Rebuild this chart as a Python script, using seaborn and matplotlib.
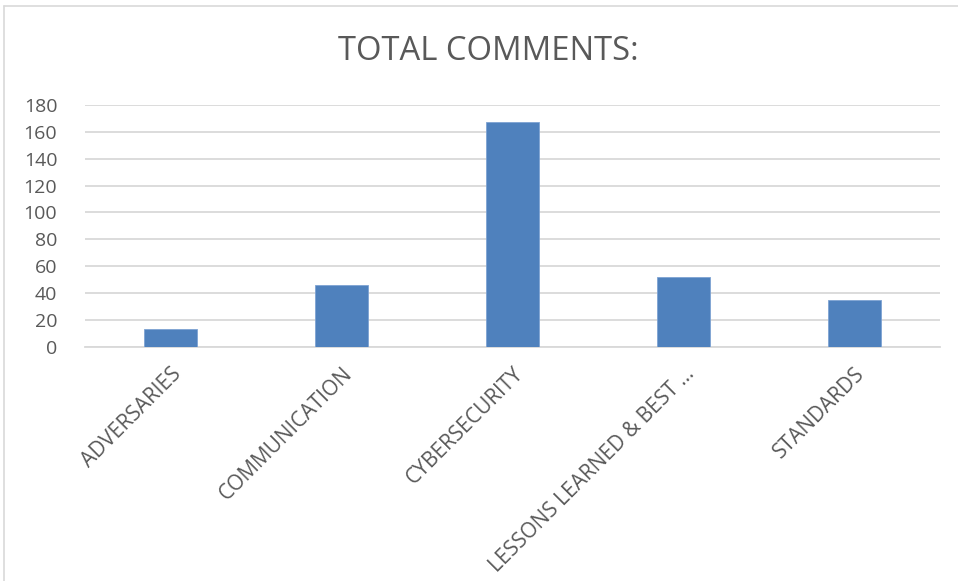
import matplotlib
matplotlib.use("Agg")
import matplotlib.pyplot as plt
import seaborn as sns
import pandas as pd
from matplotlib.lines import Line2D

categories = ["ADVERSARIES", "COMMUNICATION", "CYBERSECURITY",
              "LESSONS LEARNED & BEST …", "STANDARDS"]
values = [13, 46, 167, 52, 35]
yticks = [0, 20, 40, 60, 80, 100, 120, 140, 160, 180]
title = "TOTAL COMMENTS:"

sns.set_theme(style="white")
plt.rcParams['font.family'] = ['Open Sans', 'DejaVu Sans']

df = pd.DataFrame({"category": categories, "value": values})

fig = plt.figure(figsize=(9.58, 5.81), dpi=100)
ax = fig.add_axes([85/958, 1-346.7/581, (940-85)/958, (346.7-105)/581])

sns.barplot(data=df, x="category", y="value", color="#4f81bd", width=0.315,
            saturation=1, edgecolor="#7ea3d3", linewidth=0.6, ax=ax, zorder=3)

ax.set_ylim(0, 180)
ax.set_xlim(-0.5, len(categories) - 0.5)
ax.set_yticks(yticks)
ax.set_yticklabels([str(t) for t in yticks])
ax.yaxis.grid(True, color="#d9d9d9", linewidth=1.3, zorder=0)
ax.set_axisbelow(True)
for s in ["top", "right", "left"]:
    ax.spines[s].set_visible(False)
ax.spines["bottom"].set_color("#d9d9d9")
ax.spines["bottom"].set_linewidth(1.3)
ax.set_xlabel("")
ax.set_ylabel("")
ax.tick_params(axis="y", length=0, pad=20, labelsize=14, labelcolor="#595959")
ax.tick_params(axis="x", length=0, pad=12, labelsize=15, labelcolor="#595959")
for lab in ax.get_xticklabels():
    lab.set_rotation(45)
    lab.set_ha("right")
    lab.set_va("top")
    lab.set_rotation_mode("anchor")

fig.text(488/958, 1-51/581, title, ha="center", va="center", fontsize=23.6,
         color="#595959")

fig.add_artist(Line2D([4/958, 1], [1-6/581, 1-6/581], color="#d9d9d9", lw=1.2,
                      transform=fig.transFigure))
fig.add_artist(Line2D([4/958, 4/958], [0, 1-6/581], color="#d9d9d9", lw=1.2,
                      transform=fig.transFigure))

fig.savefig("out.png", dpi=100, facecolor="white")
